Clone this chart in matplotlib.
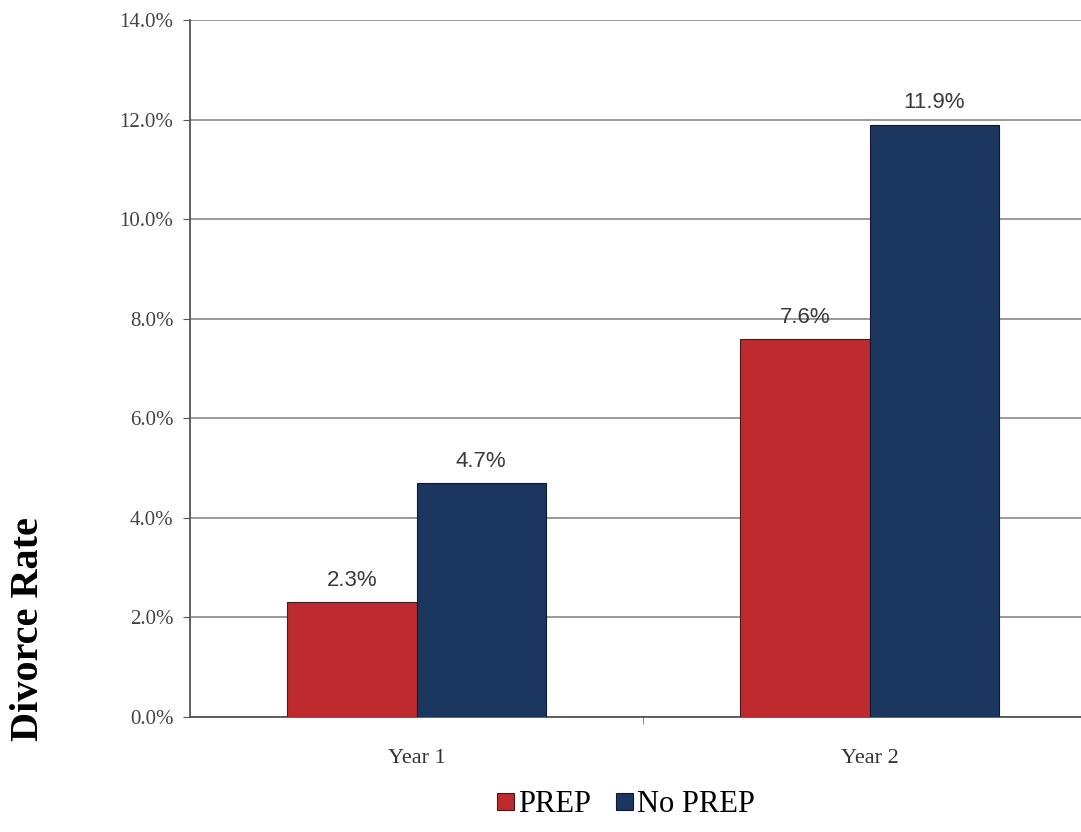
import matplotlib
matplotlib.use("Agg")
import matplotlib.pyplot as plt
import numpy as np

years = ["Year 1", "Year 2"]
prep = [2.3, 7.6]
no_prep = [4.7, 11.9]
series_names = ["PREP", "No PREP"]
y_ticks = [0, 2, 4, 6, 8, 10, 12, 14]

red = "#BE2A2E"
navy = "#1B365F"

fig = plt.figure(figsize=(10.81, 8.32), dpi=100)
# axes runs off the right edge like the original crop
ax = fig.add_axes([190 / 1081, 1 - 717 / 832, 906 / 1081, 697 / 832])

index = np.arange(len(years))
bar_width = 0.286

rect1 = ax.bar(index - bar_width / 2, prep, width=bar_width, color=red,
               edgecolor="#4a1a1a", linewidth=0.8, label=series_names[0], zorder=3)
rect2 = ax.bar(index + bar_width / 2, no_prep, width=bar_width, color=navy,
               edgecolor="#0d1a2e", linewidth=0.8, label=series_names[1], zorder=3)


def autolabel(rects):
    for rect in rects:
        height = rect.get_height()
        ax.annotate('{0:.1f}%'.format(height),
                    xy=(rect.get_x() + rect.get_width() / 2, height),
                    xytext=(0, 8), textcoords="offset points",
                    ha='center', va='bottom', fontsize=16,
                    family="Liberation Sans", color="#3a3a3a")


autolabel(rect1)
autolabel(rect2)

ax.set_xlim(-0.5, 1.5)
ax.set_ylim(0, 14)
ax.set_yticks(y_ticks)
ax.set_yticklabels(['{0:.1f}%'.format(v) for v in y_ticks],
                   family="Liberation Serif", fontsize=15, color="#444444")
ax.yaxis.grid(True, color="#9a9a9a", linewidth=1.4, zorder=0)
ax.set_axisbelow(True)

ax.set_xticks(index)
ax.set_xticklabels(years, family="Liberation Serif", fontsize=16, color="#333333")
ax.tick_params(axis='x', length=0, pad=23)
ax.set_xticks([0.5], minor=True)
ax.tick_params(axis='x', which='minor', length=5, color="#777777")
ax.tick_params(axis='y', length=5, color="#555555", pad=7)

for s in ["top", "right"]:
    ax.spines[s].set_visible(False)
ax.spines["left"].set_color("#555555")
ax.spines["left"].set_linewidth(1.3)
ax.spines["bottom"].set_color("#555555")
ax.spines["bottom"].set_linewidth(1.3)

fig.text(29 / 1081, 1 - 629 / 832, "Divorce Rate", rotation=90, ha="center",
         va="center", family="Liberation Serif", fontweight="bold", fontsize=29)

fig.legend(handles=[rect1, rect2], labels=series_names, loc="center",
           bbox_to_anchor=(626 / 1081, 1 - 805 / 832), ncol=2, frameon=False,
           prop={"family": "Liberation Serif", "size": 22},
           handlelength=0.55, handleheight=0.5, handletextpad=0.15, columnspacing=0.8)

plt.savefig("out.png", dpi=100)
